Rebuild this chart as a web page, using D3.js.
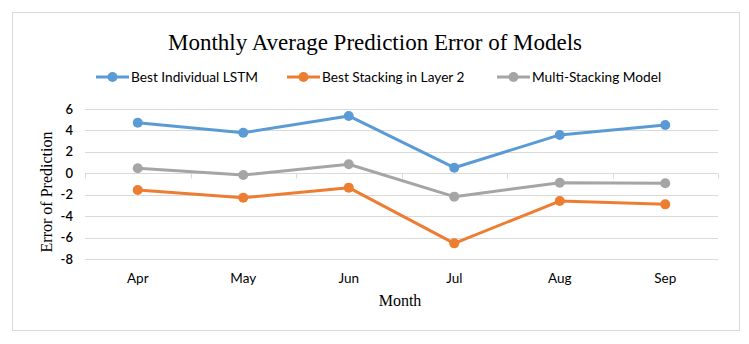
<!DOCTYPE html>
<html>
<head>
<meta charset="utf-8">
<script src="https://cdn.jsdelivr.net/npm/d3@7"></script>
<style>
  body { margin: 0; background: #fff; }
  svg { display: block; }
  .tick-y text, .tick-x text, .legend text { font-family: Lato, "Open Sans", sans-serif; fill: #000; }
  .serif { font-family: "Liberation Serif", "Times New Roman", serif; fill: #000; }
</style>
</head>
<body>
<svg id="chart" width="749" height="344"></svg>
<script>
// months on the x axis
const months = ["Apr", "May", "Jun", "Jul", "Aug", "Sep"];
// series values
const bestLSTM = [4.72, 3.79, 5.35, 0.52, 3.58, 4.51];
const bestStacking = [-1.56, -2.28, -1.34, -6.54, -2.59, -2.9];
const multiStacking = [0.47, -0.16, 0.84, -2.18, -0.88, -0.93];
const yTicks = [6, 4, 2, 0, -2, -4, -6, -8];

const seriesNames = ["Best Individual LSTM", "Best Stacking in Layer 2", "Multi-Stacking Model"];
const seriesColors = ["#5b9bd5", "#ed7d31", "#a5a5a5"];
const series = [bestLSTM, bestStacking, multiStacking].map((v, i) => ({name: seriesNames[i], color: seriesColors[i], values: v}));

const svg = d3.select("#chart");

// outer frame
svg.append("rect")
  .attr("x", 12.5).attr("y", 12.5).attr("width", 727).attr("height", 318)
  .attr("fill", "#fff").attr("stroke", "#d9d9d9").attr("stroke-width", 1);

const x = d3.scaleBand().domain(months).range([85, 718]);
const y = d3.scaleLinear().domain([-8, 6]).range([259, 109]);

// gridlines
svg.append("g").selectAll("line").data(yTicks).join("line")
  .attr("x1", 85).attr("x2", 718)
  .attr("y1", d => Math.round(y(d)) + 0.5).attr("y2", d => Math.round(y(d)) + 0.5)
  .attr("stroke", "#d9d9d9").attr("stroke-width", 1);

// category axis at zero, ticks between categories
const zeroY = Math.round(y(0)) + 0.5;
svg.append("g").selectAll("line").data(d3.range(months.length + 1)).join("line")
  .attr("x1", i => Math.round(85 + i * x.bandwidth()) + 0.5)
  .attr("x2", i => Math.round(85 + i * x.bandwidth()) + 0.5)
  .attr("y1", zeroY).attr("y2", zeroY + 5)
  .attr("stroke", "#d9d9d9");

// y tick labels
svg.append("g").attr("class", "tick-y").selectAll("text").data(yTicks).join("text")
  .attr("x", 73).attr("y", d => y(d)).attr("dy", "0.35em")
  .attr("text-anchor", "end").attr("font-size", 13).attr("font-weight", 600)
  .text(d => d);

// x tick labels
svg.append("g").attr("class", "tick-x").selectAll("text").data(months).join("text")
  .attr("x", d => x(d) + x.bandwidth() / 2).attr("y", 283)
  .attr("text-anchor", "middle").attr("font-size", 13.5)
  .text(d => d);

// lines and markers
const line = d3.line()
  .x((d, i) => x(months[i]) + x.bandwidth() / 2)
  .y(d => y(d));

const sg = svg.append("g").selectAll("g").data(series).join("g");
sg.append("path")
  .attr("d", d => line(d.values))
  .attr("fill", "none").attr("stroke", d => d.color)
  .attr("stroke-width", 3).attr("stroke-linejoin", "round");
sg.each(function(s) {
  d3.select(this).selectAll("circle").data(s.values).join("circle")
    .attr("cx", (d, i) => x(months[i]) + x.bandwidth() / 2)
    .attr("cy", d => y(d))
    .attr("r", 5).attr("fill", s.color);
});

// title
svg.append("text").attr("class", "serif")
  .attr("x", 375).attr("y", 50).attr("text-anchor", "middle")
  .attr("font-size", 23)
  .text("Monthly Average Prediction Error of Models");

// legend
const legendX = [96, 287, 497];
const lg = svg.append("g").attr("class", "legend").selectAll("g").data(series).join("g")
  .attr("transform", (d, i) => `translate(${legendX[i]},77)`);
lg.append("line").attr("x1", 0).attr("x2", 33).attr("y1", 0).attr("y2", 0)
  .attr("stroke", d => d.color).attr("stroke-width", 3);
lg.append("circle").attr("cx", 16.5).attr("cy", 0).attr("r", 5).attr("fill", d => d.color);
lg.append("text").attr("x", 35).attr("y", 0).attr("dy", "0.35em")
  .attr("font-size", 13.7).text(d => d.name);

// axis titles
svg.append("text").attr("class", "serif")
  .attr("x", 400).attr("y", 306).attr("text-anchor", "middle")
  .attr("font-size", 16).text("Month");
svg.append("text").attr("class", "serif")
  .attr("transform", "translate(52,192) rotate(-90)")
  .attr("text-anchor", "middle").attr("font-size", 16)
  .text("Error of Prediction");
</script>
</body>
</html>
